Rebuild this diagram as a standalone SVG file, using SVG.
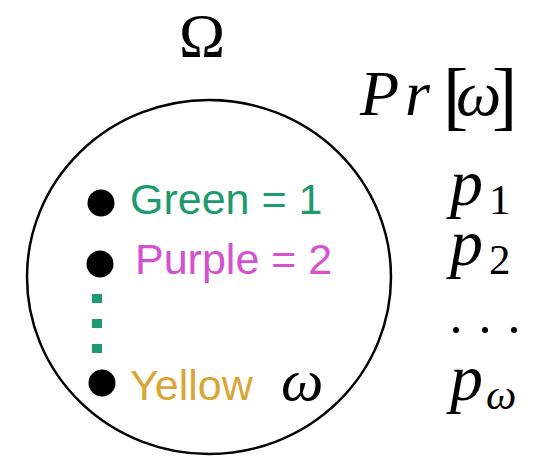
<svg xmlns="http://www.w3.org/2000/svg" width="536" height="461" viewBox="0 0 536 461">
  <style>
    .math { font-family: "Liberation Serif", "DejaVu Serif", serif; font-style: italic; fill: #000; }
    .rm { font-family: "Liberation Serif", "DejaVu Serif", serif; font-style: normal; fill: #000; }
    .lbl { font-family: "Liberation Sans", Arial, sans-serif; font-size: 43px; }
    .dot { fill: #000; }
    .sq { fill: #1d9b6c; }
  </style>
  <rect width="536" height="461" fill="#fff"/>

  <g id="omega-title">
    <text class="rm" x="202" y="56" font-size="62" text-anchor="middle">Ω</text>
  </g>

  <g id="pr-header">
    <text class="math" x="360" y="115" font-size="64">P<tspan x="405">r</tspan><tspan class="rm" x="443" dy="6" font-size="76">[</tspan><tspan x="456" dy="-6">ω</tspan><tspan class="rm" x="492" dy="6" font-size="76">]</tspan></text>
  </g>

  <g id="sample-space">
    <ellipse cx="209" cy="277" rx="182" ry="177" fill="none" stroke="#000" stroke-width="2.5"/>
  </g>

  <g id="item-green">
    <circle class="dot" cx="101" cy="203" r="13.5"/>
    <text class="lbl" x="130" y="214" fill="#1d9b6c">Green = 1</text>
  </g>

  <g id="item-purple">
    <circle class="dot" cx="100" cy="264" r="13.5"/>
    <text class="lbl" x="135" y="274" fill="#d452d0">Purple = 2</text>
  </g>

  <g id="vdots">
    <rect class="sq" x="92" y="294" width="10" height="9"/>
    <rect class="sq" x="92" y="319" width="10" height="9"/>
    <rect class="sq" x="92" y="344" width="10" height="9"/>
  </g>

  <g id="item-yellow">
    <circle class="dot" cx="102" cy="383" r="13.5"/>
    <text class="lbl" x="130" y="400" fill="#d9a636">Yellow</text>
    <text class="math" x="281" y="400" font-size="60">ω</text>
  </g>

  <g id="p1">
    <text class="math" x="450" y="205" font-size="66">p<tspan class="rm" x="489" dy="9" font-size="43">1</tspan></text>
  </g>

  <g id="p2">
    <text class="math" x="450" y="265" font-size="66">p<tspan class="rm" x="489" dy="9" font-size="43">2</tspan></text>
  </g>

  <g id="hdots">
    <circle class="dot" cx="456" cy="330" r="3"/>
    <circle class="dot" cx="485" cy="330" r="3"/>
    <circle class="dot" cx="514" cy="330" r="3"/>
  </g>

  <g id="p-omega">
    <text class="math" x="450" y="400" font-size="66">p<tspan x="486" dy="9" font-size="43">ω</tspan></text>
  </g>
</svg>
